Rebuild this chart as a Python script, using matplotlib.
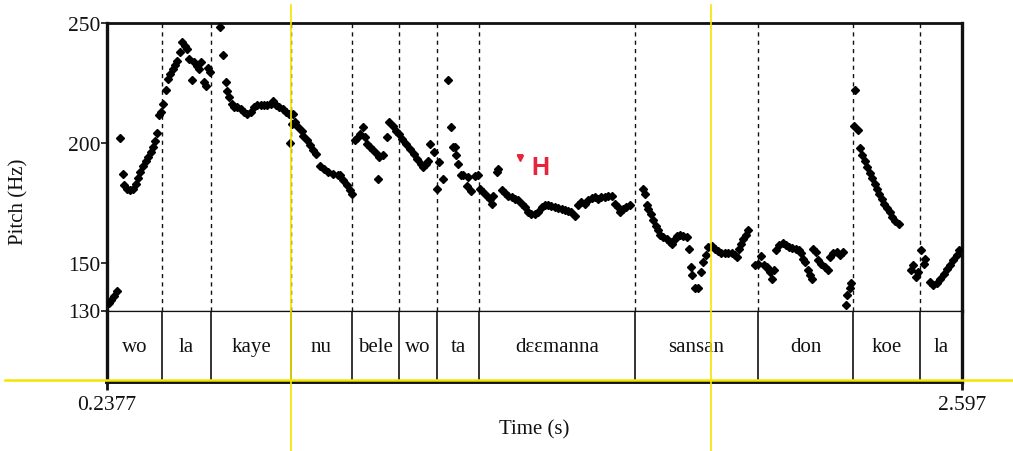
import matplotlib
matplotlib.use("Agg")
import matplotlib.pyplot as plt
from matplotlib.lines import Line2D
from matplotlib.transforms import blended_transform_factory

plt.rcParams["font.family"] = ["Liberation Serif", "DejaVu Serif"]

INK = "#111111"
YELLOW = "#f2e600"
RED = "#e8243c"

# time axis (s) and pitch range (Hz)
t_start, t_end = 0.2377, 2.597
f_min, f_max = 130, 250
pitch_ticks = [130, 150, 200, 250]

# syllable tier
boundaries = [0.2377, 0.3895, 0.5247, 0.7454, 0.9137, 1.0434, 1.1483,
              1.2642, 1.6947, 2.0341, 2.2962, 2.4811, 2.597]
syllables = ["wo", "la", "kaye", "nu", "bele", "wo", "ta", "dɛɛmanna",
             "sansan", "don", "koe", "la"]

# editor cursors (yellow)
cursor_times = [0.7454, 1.9044]

# tone label
tone_label = "H"
tone_mark = (1.377, 193.7)
tone_text = (1.433, 190.0)

# pitch track
time_s = [
    0.242, 0.250, 0.257, 0.264,
    0.274, 0.281, 0.285, 0.292, 0.301, 0.310, 0.318, 0.324, 0.330, 0.338,
    0.345, 0.352, 0.358, 0.364, 0.370, 0.376, 0.382, 0.387,
    0.393, 0.400, 0.405, 0.411, 0.419, 0.425, 0.432, 0.439, 0.446, 0.453,
    0.459, 0.465, 0.471, 0.478, 0.485, 0.492, 0.497, 0.505, 0.511, 0.517, 0.522,
    0.549, 0.557, 0.565, 0.570, 0.575, 0.582, 0.589, 0.597, 0.607, 0.616,
    0.625, 0.634, 0.643, 0.652, 0.662, 0.671, 0.680, 0.689, 0.697, 0.704,
    0.713, 0.722, 0.731, 0.740, 0.743, 0.747,
    0.750, 0.756, 0.766, 0.775, 0.779, 0.789, 0.798, 0.807, 0.814, 0.826,
    0.837, 0.848, 0.862, 0.876, 0.880, 0.890, 0.899, 0.908, 0.913,
    0.922, 0.927, 0.936, 0.943, 0.949, 0.956, 0.963, 0.972, 0.982, 0.986,
    0.989, 0.998, 1.009, 1.017, 1.026, 1.035,
    1.044, 1.053, 1.063, 1.074, 1.085, 1.094, 1.103, 1.110, 1.118, 1.124,
    1.130, 1.139,
    1.147, 1.155, 1.164, 1.178, 1.186, 1.193, 1.198, 1.201, 1.207, 1.214,
    1.221, 1.232, 1.235, 1.242, 1.253, 1.262,
    1.267, 1.276, 1.285, 1.294, 1.299, 1.303, 1.313, 1.317, 1.327, 1.336,
    1.345, 1.354, 1.363, 1.372, 1.382, 1.391, 1.400, 1.409, 1.418, 1.428,
    1.437, 1.446, 1.455, 1.464, 1.474, 1.483, 1.492, 1.501, 1.510, 1.519,
    1.529, 1.538, 1.547, 1.556, 1.565, 1.575, 1.584, 1.593, 1.602, 1.611,
    1.621, 1.630, 1.639, 1.648, 1.654, 1.662, 1.671, 1.680,
    1.716, 1.722, 1.727, 1.731, 1.738, 1.745, 1.752, 1.759, 1.765, 1.772,
    1.782, 1.791, 1.798, 1.804, 1.811, 1.818, 1.827, 1.837, 1.844, 1.848,
    1.853, 1.860, 1.869, 1.878, 1.883, 1.890, 1.896, 1.906, 1.915, 1.924,
    1.933, 1.942, 1.951, 1.961, 1.970, 1.976, 1.982, 1.988, 1.994, 2.000,
    2.006,
    2.027, 2.034, 2.043, 2.052, 2.058, 2.061, 2.067, 2.074, 2.078, 2.085,
    2.092, 2.102, 2.111, 2.120, 2.129, 2.138, 2.147, 2.154, 2.158, 2.165,
    2.171, 2.177, 2.182, 2.186, 2.194, 2.200, 2.209, 2.219, 2.228, 2.233,
    2.242, 2.251, 2.260, 2.268, 2.277, 2.281, 2.288, 2.290,
    2.298, 2.302, 2.310, 2.315, 2.322, 2.329, 2.335, 2.342, 2.350, 2.356,
    2.362, 2.369, 2.377, 2.383, 2.389, 2.397, 2.404, 2.413, 2.422,
    2.455, 2.461, 2.469, 2.476,
    2.483, 2.493, 2.496, 2.509, 2.518, 2.527, 2.537, 2.546, 2.555, 2.564,
    2.573, 2.582, 2.589,
]
f0_hz = [
    133.0, 134.5, 136.0, 138.0,
    202.0, 186.8, 182.2, 180.8, 180.1, 180.8, 182.9, 185.3, 187.8, 190.5,
    192.2, 194.0, 196.1, 198.2, 200.6, 204.2, 211.4, 212.8,
    216.3, 222.2, 226.7, 228.8, 230.8, 232.5, 234.3, 237.8, 242.0, 240.5,
    239.2, 235.0, 226.4, 233.6, 232.2, 230.8, 233.9, 225.3, 223.9, 231.1, 229.4,
    248.2, 236.8, 225.3, 221.8, 219.0, 216.3, 214.9, 214.9, 213.9, 212.8,
    212.1, 213.0, 214.9, 215.8, 215.8, 215.8, 215.8, 216.3, 217.6, 215.8,
    214.9, 213.9, 212.8, 212.1, 200.0, 207.9,
    212.1, 208.6, 206.5, 205.1, 203.0, 201.0, 198.9, 196.8, 195.4, 190.5,
    189.2, 187.8, 187.1, 186.7, 186.4, 184.3, 182.2, 180.1, 178.8,
    201.0, 202.0, 203.8, 206.5, 202.4, 199.6, 198.2, 196.8, 195.4, 185.0,
    194.0, 194.7, 202.4, 208.6, 207.2, 205.1,
    203.8, 201.7, 199.6, 197.5, 195.4, 193.3, 191.3, 189.9, 191.3, 192.6,
    199.6, 196.1,
    180.8, 192.0, 185.0, 226.4, 206.5, 198.2, 198.2, 194.7, 191.3, 186.4,
    186.4, 182.0, 185.7, 180.0, 186.1, 186.7,
    180.8, 179.5, 178.0, 176.7, 174.6, 178.0, 187.8, 188.9, 180.1, 179.0,
    178.0, 177.4, 176.7, 176.0, 174.6, 173.2, 171.1, 170.4, 170.4, 171.1,
    173.2, 174.2, 174.2, 173.6, 173.2, 172.8, 172.2, 171.8, 171.4, 171.1,
    169.5, 173.9, 175.3, 174.6, 176.0, 177.0, 177.4, 176.7, 177.4, 177.4,
    177.8, 177.8, 174.6, 173.2, 171.1, 172.5, 173.2, 174.2,
    180.8, 178.8, 173.9, 172.2, 170.4, 167.6, 165.3, 163.5, 161.7, 160.7,
    159.7, 158.6, 157.9, 159.7, 161.1, 161.7, 161.1, 160.7, 155.8, 148.2,
    144.7, 139.5, 139.5, 146.1, 150.3, 153.0, 156.5, 156.9, 155.8, 154.7,
    154.2, 153.8, 153.8, 153.8, 153.3, 152.4, 155.8, 157.9, 159.7, 161.7,
    163.5,
    148.9, 149.6, 152.8, 148.9, 148.2, 147.5, 146.1, 143.3, 146.8, 155.1,
    157.2, 158.3, 157.2, 156.5, 156.1, 155.8, 155.1, 153.8, 151.7, 150.3,
    146.8, 144.7, 143.3, 155.8, 154.4, 151.0, 149.6, 148.2, 146.8, 152.4,
    153.8, 154.4, 153.3, 154.4, 132.2, 136.4, 139.5, 141.3,
    207.2, 222.2, 205.5, 197.8, 195.0, 192.6, 189.9, 187.5, 185.3, 182.9,
    180.8, 178.8, 176.7, 174.6, 172.8, 171.1, 169.0, 167.2, 166.3,
    146.8, 148.9, 144.0, 146.1,
    155.1, 149.6, 151.4, 141.9, 140.8, 141.3, 143.0, 145.4, 147.5, 149.2,
    151.0, 153.0, 155.1,
]

W, H = 1013, 452
fig = plt.figure(figsize=(W / 100, H / 100), dpi=100)
fig.patch.set_facecolor("white")

left, right = 107 / W, 962 / W
ax = fig.add_axes([left, 1 - 311.5 / H, right - left, 287.5 / H])
tier = fig.add_axes([left, 1 - 383 / H, right - left, 71.5 / H])

# --- pitch panel ---
for b in boundaries[1:-1]:
    ax.axvline(b, color=INK, lw=1.0, ls=(0, (3, 3)), zorder=1)
ax.plot(time_s, f0_hz, ls="none", marker="D", ms=3.8, color="black",
        mec="black", zorder=3)
ax.plot([tone_mark[0]], [tone_mark[1]], ls="none", marker="v", ms=4.5,
        color=RED, zorder=4)
ax.plot([tone_mark[0]], [tone_mark[1] + 1.2], ls="none", marker="_", ms=5,
        mew=1.4, color=RED, zorder=4)
ax.text(tone_text[0], tone_text[1], tone_label, color=RED, fontsize=18,
        fontweight="bold", family=["Liberation Sans", "DejaVu Sans"],
        ha="center", va="center")

ax.set_xlim(t_start, t_end)
ax.set_ylim(f_min, f_max)
ax.set_yticks(pitch_ticks)
ax.set_xticks([])
ax.tick_params(axis="y", direction="out", length=4, width=1.2,
               labelsize=15.5, pad=1, colors=INK)
ax.set_ylabel("Pitch (Hz)", fontsize=15, color=INK)
ax.yaxis.set_label_coords(-0.092, 0.38)
for side, lw in [("left", 2.4), ("top", 2.0), ("right", 2.4), ("bottom", 0.9)]:
    ax.spines[side].set_linewidth(lw)
    ax.spines[side].set_color(INK)

# --- tier panel ---
for b in boundaries[1:-1]:
    tier.axvline(b, color=INK, lw=1.2)
for a, b, lab in zip(boundaries[:-1], boundaries[1:], syllables):
    tier.text((a + b) / 2, 0.5, lab, ha="center", va="center",
              fontsize=15, color=INK)
tier.set_xlim(t_start, t_end)
tier.set_ylim(0, 1)
tier.set_yticks([])
tier.set_xticks([t_start, t_end])
tier.set_xticklabels(["0.2377", "2.597"])
tier.tick_params(axis="x", direction="out", length=6, width=2.0,
                 labelsize=15.5, pad=3, colors=INK)
tier.set_xlabel("Time (s)", fontsize=15, color=INK, labelpad=4)
for side, lw in [("left", 2.4), ("top", 0.9), ("right", 2.4), ("bottom", 2.8)]:
    tier.spines[side].set_linewidth(lw)
    tier.spines[side].set_color(INK)

# --- yellow cursors across the whole window ---
vtrans = blended_transform_factory(ax.transData, fig.transFigure)
for c in cursor_times:
    fig.add_artist(Line2D([c, c], [0, 1 - 6 / H], transform=vtrans,
                          color=YELLOW, lw=1.2, zorder=0.5))
fig.add_artist(Line2D([5 / W, 1], [1 - 381 / H, 1 - 381 / H],
                      transform=fig.transFigure, color=YELLOW, lw=1.8,
                      zorder=10))

fig.savefig("out.png", dpi=100, facecolor="white")
